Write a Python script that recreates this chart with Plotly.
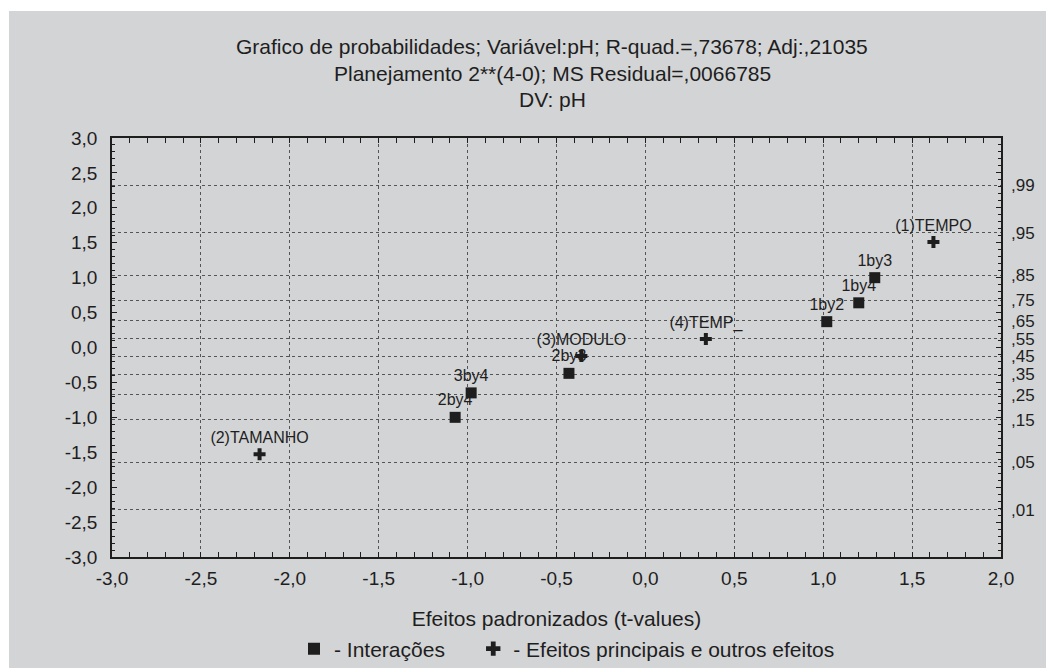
import plotly.graph_objects as go
from statistics import NormalDist

# ---- data ----
inter_labels = ["1by3", "1by4", "1by2", "2by3", "3by4", "2by4"]
inter_x = [1.29, 1.20, 1.02, -0.43, -0.98, -1.07]
inter_y = [1.00, 0.64, 0.37, -0.37, -0.65, -1.00]

main_labels = ["(1)TEMPO", "(4)TEMP_", "(3)MODULO", "(2)TAMANHO"]
main_x = [1.62, 0.34, -0.36, -2.17]
main_y = [1.51, 0.12, -0.12, -1.53]

prob_levels = [0.01, 0.05, 0.15, 0.25, 0.35, 0.45, 0.55, 0.65, 0.75, 0.85, 0.95, 0.99]
prob_text = [",01", ",05", ",15", ",25", ",35", ",45", ",55", ",65", ",75", ",85", ",95", ",99"]

x_ticks = [-3.0, -2.5, -2.0, -1.5, -1.0, -0.5, 0.0, 0.5, 1.0, 1.5, 2.0]
y_ticks = [-3.0, -2.5, -2.0, -1.5, -1.0, -0.5, 0.0, 0.5, 1.0, 1.5, 2.0, 2.5, 3.0]

title_lines = [
    "Grafico de probabilidades; Variável:pH; R-quad.=,73678; Adj:,21035",
    "Planejamento 2**(4-0); MS Residual=,0066785",
    "DV: pH",
]

legend_names = ["- Interações", "- Efeitos principais e outros efeitos"]

def fmt(v):
    return f"{v:.1f}".replace(".", ",")

prob_pos = [NormalDist().inv_cdf(p) for p in prob_levels]

FONT = "Liberation Sans, Arial, sans-serif"
INK = "#1e1e1e"
BG = "#d3d4d6"
NBSP = "\u00a0"

OFF = 8  # page body margin
W, H = 1054 - OFF, 668 - OFF
ML, MT = 104, 130
MR = W - ML - 889
MB = H - MT - 419
PW, PH = W - ML - MR, H - MT - MB

def py2paper(screen_y):
    return (H - MB - (screen_y - OFF)) / PH

def px2paper(screen_x):
    return ((screen_x - OFF) - ML) / PW

fig = go.Figure()

fig.add_trace(go.Scatter(
    x=inter_x, y=inter_y, text=inter_labels, mode="markers+text",
    textposition="top center",
    textfont=dict(family=FONT, size=16, color=INK),
    marker=dict(symbol="square", size=11, color=INK),
    name=legend_names[0] + NBSP * 4, cliponaxis=False,
))
fig.add_trace(go.Scatter(
    x=main_x, y=main_y, text=main_labels, mode="markers+text",
    textposition="top center",
    textfont=dict(family=FONT, size=16, color=INK),
    marker=dict(symbol="cross", size=10, color=INK),
    name=legend_names[1], cliponaxis=False,
))
fig.add_trace(go.Scatter(x=[None], y=[None], yaxis="y2", showlegend=False, hoverinfo="skip"))

for i, line in enumerate(title_lines):
    fig.add_annotation(
        text=line, xref="paper", yref="paper", x=px2paper(552), y=py2paper(46 + 27 * i),
        xanchor="center", yanchor="middle", showarrow=False,
        font=dict(family=FONT, size=21, color=INK),
    )

fig.add_shape(type="rect", xref="paper", yref="paper",
              x0=px2paper(9), x1=1.2, y0=-0.4, y1=py2paper(11),
              fillcolor=BG, line=dict(width=0), layer="below")

fig.update_layout(
    width=W, height=H,
    margin=dict(l=ML, r=MR, t=MT, b=MB, autoexpand=False),
    paper_bgcolor="white", plot_bgcolor=BG,
    font=dict(family=FONT, size=19, color=INK),
    showlegend=True,
    legend=dict(orientation="h", x=px2paper(294), xanchor="left", y=py2paper(649),
                yanchor="middle", bgcolor="rgba(0,0,0,0)",
                font=dict(family=FONT, size=21, color=INK), itemsizing="constant"),
    xaxis=dict(
        range=[-3, 2], tickvals=x_ticks, ticktext=[fmt(v) for v in x_ticks],
        showline=True, linecolor=INK, linewidth=1.5, mirror="allticks",
        ticks="inside", ticklen=5, tickcolor=INK, tickwidth=1,
        minor=dict(dtick=0.1, tick0=0, ticks="inside", ticklen=3, tickcolor=INK, showgrid=False),
        showgrid=True, gridcolor="#555555", griddash="dot", gridwidth=1,
        zeroline=False, ticklabelstandoff=3, automargin=False,
        title=dict(text="Efeitos padronizados (t-values)", standoff=24,
                   font=dict(family=FONT, size=21, color=INK)),
        tickfont=dict(family=FONT, size=19, color=INK),
    ),
    yaxis=dict(
        range=[-3, 3], tickvals=y_ticks, ticktext=[fmt(v) for v in y_ticks],
        showline=True, linecolor=INK, linewidth=1.5, mirror="allticks",
        ticks="inside", ticklen=5, tickcolor=INK, tickwidth=1,
        minor=dict(dtick=0.1, tick0=0, ticks="inside", ticklen=3, tickcolor=INK, showgrid=False),
        showgrid=False, zeroline=False, ticklabelstandoff=9, automargin=False,
        tickfont=dict(family=FONT, size=19, color=INK),
    ),
    yaxis2=dict(
        range=[-3, 3], overlaying="y", side="right",
        tickvals=prob_pos, ticktext=prob_text, ticks="",
        showgrid=True, gridcolor="#555555", griddash="dot", gridwidth=1,
        zeroline=False, showline=False, ticklabelstandoff=9, automargin=False,
        tickfont=dict(family=FONT, size=17, color=INK),
    ),
)

fig.write_html("out.html")
